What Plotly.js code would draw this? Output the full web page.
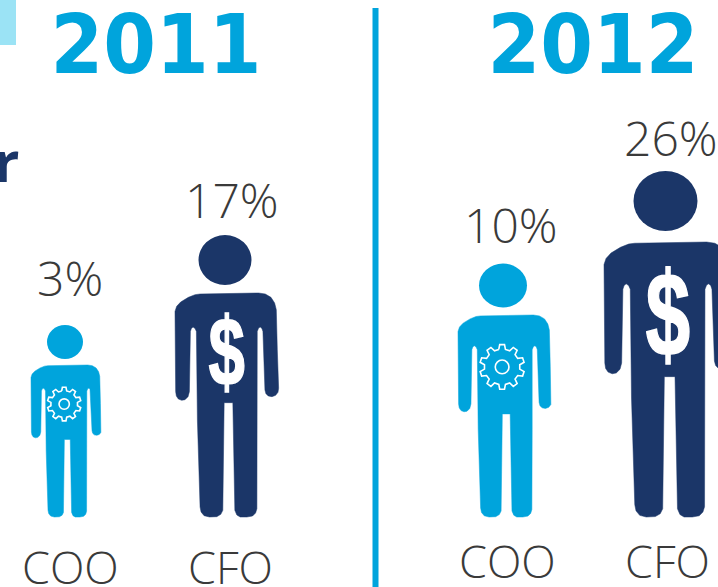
<!DOCTYPE html>
<html><head><meta charset="utf-8">
<script src="https://cdn.plot.ly/plotly-3.0.1.min.js"></script>
<style>html,body{margin:0;padding:0;background:#fff;overflow:hidden}</style></head>
<body><div id="chart" style="width:718px;height:587px"></div>
<script>
// chart values
const years = ['2011', '2012'];
const roles = ['COO', 'CFO', 'COO', 'CFO'];
const shares = [3, 17, 10, 26];

// drawing constants (kept apart from the values)
const BLUE = '#00A4DC', NAVY = '#1B3668', INK = '#3A3A3A';
const bodyLeft = [31, 175, 458, 604];
const bodyTop = [365, 293, 315, 242];
const headX = [65, 225, 503, 665.5];
const headY = [342, 260, 285.5, 201];
const headRX = [18, 26.5, 24, 32];
const headRY = [17, 25, 22, 30];
const FOOT = 517;
const pctX = [70, 232, 511, 671], pctY = [277, 199, 224, 137];
const roleX = [70, 230, 507, 667], roleY = [566, 566, 560, 560];
const yearX = [155.5, 593], yearY = [44, 44];

// silhouette outline, in its own artwork units
const outline = [
 [600,223],[680,221],[775,220],[795,223],[812,233],[823,250],[828,270],
 [831,390],[835,505],[833,517],[826,526],[815,530],[804,528],[797,521],[794,510],
 [788,335],[785,326],[780,322],[775,325],[771,335],
 [771,600],[770,865],[766,878],[757,887],[740,890],[720,890],[710,884],[704,870],
 [698,548],[672,548],[668,870],[662,882],[650,889],[628,890],[612,886],[603,875],[600,860],
 [592,600],[589,335],[585,326],[579,322],[574,326],[571,335],
 [568,515],[564,530],[555,539],[545,541],[535,537],[529,528],[527,515],
 [525,275],[530,260],[542,247],[565,233],[585,225],[600,223]
];
const ow = 835 - 525, oh = 890 - 220;

const traces = [], shapes = [], annotations = [];
shapes.push({type:'rect', xref:'x', yref:'y', x0:0, x1:16, y0:0, y1:45, fillcolor:'#9BE3F5', line:{width:0}});
shapes.push({type:'line', xref:'x', yref:'y', x0:375.5, x1:375.5, y0:8, y1:587, line:{color:BLUE, width:6}});

roles.forEach((role, i) => {
  const color = role === 'COO' ? BLUE : NAVY;
  const h = FOOT - bodyTop[i], s = h / oh;
  traces.push({type:'scatter', mode:'lines', fill:'toself', fillcolor:color, hoverinfo:'skip',
    line:{color:color, width:0.5},
    x: outline.map(p => bodyLeft[i] + (p[0]-525)*s),
    y: outline.map(p => bodyTop[i] + (p[1]-220)*s)});
  shapes.push({type:'circle', xref:'x', yref:'y', x0:headX[i]-headRX[i], x1:headX[i]+headRX[i],
    y0:headY[i]-headRY[i], y1:headY[i]+headRY[i], fillcolor:color, line:{width:0}});
  const w = ow * s;
  if (role === 'COO') {
    const cx = bodyLeft[i] + 0.472*w, cy = bodyTop[i] + 0.257*h, R = 0.111*h, r = 0.088*h, hole = 0.034*h;
    const gx = [], gy = [], teeth = 10;
    for (let t = 0; t < teeth; t++) {
      const a = t/teeth*2*Math.PI;
      [[-.30,r],[-.17,R],[.17,R],[.30,r]].forEach(q => {
        const b = a + q[0]*2*Math.PI/teeth;
        gx.push(cx + q[1]*Math.sin(b)); gy.push(cy - q[1]*Math.cos(b));
      });
    }
    gx.push(gx[0]); gy.push(gy[0]);
    traces.push({type:'scatter', mode:'lines', x:gx, y:gy, hoverinfo:'skip', line:{color:'#fff', width:1.6}});
    shapes.push({type:'circle', xref:'x', yref:'y', x0:cx-hole, x1:cx+hole, y0:cy-hole, y1:cy+hole,
      fillcolor:'rgba(0,0,0,0)', line:{color:'#fff', width:1.6}});
  } else {
    annotations.push({xref:'x', yref:'y', x:bodyLeft[i]+0.5*w, y:bodyTop[i]+0.26*h, text:'$', showarrow:false,
      font:{family:'"Liberation Sans"', size:0.43*h, color:'#fff', weight:700}});
  }
  annotations.push({xref:'x', yref:'y', x:pctX[i], y:pctY[i], text:shares[i]+'%', showarrow:false,
    font:{family:'"Open Sans"', size:48, color:INK, weight:300}});
  annotations.push({xref:'x', yref:'y', x:roleX[i], y:roleY[i], text:role, showarrow:false,
    font:{family:'"Open Sans"', size:45, color:INK, weight:300}});
});
years.forEach((yr, i) => annotations.push({xref:'x', yref:'y', x:yearX[i], y:yearY[i], text:yr, showarrow:false,
  font:{family:'"DejaVu Sans"', size:82, color:BLUE, weight:700}}));
annotations.push({xref:'x', yref:'y', x:21, y:160, xanchor:'right', text:'r', showarrow:false,
  font:{family:'"Open Sans"', size:56, color:NAVY, weight:700}});

Plotly.newPlot('chart', traces, {
  width:718, height:587, margin:{l:0,r:0,t:0,b:0}, showlegend:false,
  paper_bgcolor:'#fff', plot_bgcolor:'#fff',
  xaxis:{range:[0,718], visible:false, fixedrange:true},
  yaxis:{range:[587,0], visible:false, fixedrange:true},
  shapes:shapes, annotations:annotations
}, {displayModeBar:false, staticPlot:true}).then(() => {
  // horizontal tuning of the dollar glyphs and the year headings
  document.querySelectorAll('#chart text.annotation-text').forEach(el => {
    const t = el.textContent.trim();
    const k = t === '$' ? 0.68 : (years.includes(t) ? 0.925 : 0);
    if (!k) return;
    const b = el.getBBox(), c = b.x + b.width/2, old = el.getAttribute('transform') || '';
    el.setAttribute('transform', old + ' translate(' + c + ',0) scale(' + k + ',1) translate(' + (-c) + ',0)');
    if (t === '$') { el.style.stroke = '#fff'; el.style.strokeWidth = '1.6px'; }
  });
});
</script></body></html>
